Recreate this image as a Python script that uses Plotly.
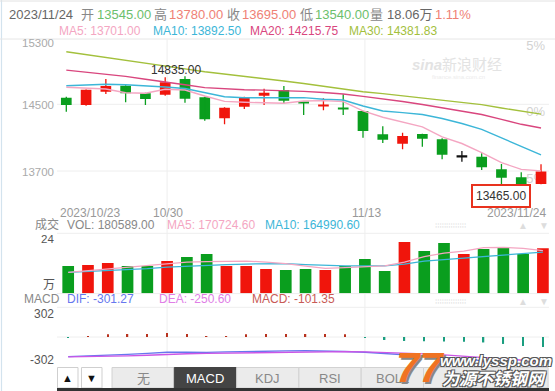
import plotly.graph_objects as go

W, H = 555, 391
FONT = "Liberation Sans, Arial, Noto Sans CJK SC, sans-serif"

# ---------------- data ----------------
dates = ["2023/10/23", "2023/10/24", "2023/10/25", "2023/10/26", "2023/10/27",
         "2023/10/30", "2023/10/31", "2023/11/01", "2023/11/02", "2023/11/03",
         "2023/11/06", "2023/11/07", "2023/11/08", "2023/11/09", "2023/11/10",
         "2023/11/13", "2023/11/14", "2023/11/15", "2023/11/16", "2023/11/17",
         "2023/11/20", "2023/11/21", "2023/11/22", "2023/11/23", "2023/11/24"]
opens = [14579, 14492, 14651, 14723, 14632, 14615, 14804, 14584, 14332, 14471,
         14603, 14672, 14526, 14480, 14454, 14420, 14140, 14027, 14144, 14080,
         13880, 13872, 13720, 13624, 13545]
closes = [14492, 14675, 14720, 14632, 14564, 14764, 14567, 14320, 14459, 14579,
          14639, 14543, 14522, 14486, 14450, 14180, 14075, 14120, 14087, 13895,
          13880, 13744, 13619, 13545, 13695]
highs = [14591, 14678, 14804, 14728, 14640, 14824, 14835, 14590, 14465, 14591,
         14687, 14720, 14526, 14572, 14620, 14422, 14236, 14160, 14146, 14092,
         13940, 13912, 13784, 13684, 13780]
lows = [14411, 14483, 14624, 14524, 14492, 14603, 14519, 14303, 14260, 14444,
        14492, 14512, 14372, 14428, 14372, 14099, 14036, 13960, 13991, 13840,
        13811, 13712, 13465, 13480, 13540]
ma5 = [14704, 14692, 14684, 14638, 14632, 14680, 14672, 14600, 14535, 14524,
       14520, 14512, 14540, 14544, 14532, 14420, 14345, 14290, 14230, 14110,
       14030, 13920, 13800, 13720, 13701.00]
ma10 = [14722, 14733, 14740, 14735, 14725, 14708, 14690, 14640, 14590, 14579,
        14580, 14583, 14580, 14560, 14552, 14480, 14420, 14400, 14378, 14330,
        14270, 14200, 14100, 14000, 13892.50]
ma20 = [14910, 14885, 14860, 14835, 14800, 14771, 14735, 14700, 14683, 14675,
        14670, 14664, 14655, 14642, 14624, 14595, 14566, 14534, 14497, 14458,
        14420, 14378, 14320, 14260, 14215.75]
ma30 = [15131, 15098, 15063, 15030, 14995, 14962, 14925, 14890, 14864, 14836,
        14808, 14780, 14750, 14717, 14684, 14651, 14628, 14602, 14576, 14550,
        14522, 14496, 14455, 14418, 14381.83]
volumes = [109000, 113000, 121000, 109000, 109000, 129000, 145000, 157000, 109000, 109000,
           97000, 93000, 97000, 93000, 109000, 137000, 89000, 205000, 169000, 201000,
           157000, 177000, 185000, 157000, 180589]
vol_ma5 = [84000, 91000, 99000, 105000, 113000, 121000, 125000, 127000, 129000, 129000,
           125000, 119000, 109000, 100000, 103000, 107000, 110000, 125000, 147000, 161000,
           169000, 183000, 184000, 180000, 170724.6]
vol_ma10 = [84000, 87000, 91000, 95000, 99000, 105000, 109000, 113000, 115000, 117000,
            119000, 119000, 115000, 111000, 110000, 110000, 110000, 117000, 129000, 135000,
            141000, 147000, 153000, 161000, 164990.6]
dif = [-198, -192, -184, -175, -165, -154, -152, -155, -150, -145,
       -141, -140, -138, -140, -146, -154, -165, -178, -190, -205,
       -220, -240, -260, -282, -301.27]
dea = [-200, -199, -195, -190, -183, -174, -168, -165, -162, -158,
       -154, -150, -148, -147, -147, -150, -155, -162, -170, -180,
       -192, -205, -219, -234, -250.60]
macd = [-6, 4, 28, 30, 30, 40, 30, 6, 6, 28,
        30, 30, 30, 30, 28, -4, -30, -40, -42, -45,
        -48, -55, -70, -90, -101.35]

date_tick_idx = [0, 5, 15, 24]
date_tick_text = ["2023/10/23", "10/30", "11/13", "2023/11/24"]
price_grid = [15300, 14500, 13700]
price_tick_text = ["15300", "14500", "13700"]
pct_tick_text = ["5%", "0%", "-5%"]
vol_tick_text = ["24", "万"]
macd_tick_text = ["302", "-302"]
max_label = "14835.00"
min_label = "13465.00"

# ---------------- style helpers ----------------
RED = "#f0150c"
GREEN = "#0a9e1e"
BLACK = "#111111"
C_MA5, C_MA10, C_MA20, C_MA30 = "#f4a6c2", "#3cb6d8", "#d9467e", "#a3c03c"
C_DIF, C_DEA = "#6677ee", "#cc55e6"


def fx(p):
    return p / W


def fy(p):
    return 1 - p / H


PL, PR = 57, 549
SP = 19.78
v0 = (PL - 68.2) / SP
V_RANGE = [v0, v0 + (PR - PL) / SP]
M_RANGE = [V_RANGE[0] + 0.096, V_RANGE[1] + 0.096]
UPP = 800 / 66.7  # price units per pixel
Y_TOP_PX, Y_BOT_PX = 37.6, 205
M_YRANGE = [15300 - (Y_BOT_PX - Y_TOP_PX) * UPP, 15300]

x = list(range(len(dates)))
cand_color = [RED if c > o else (GREEN if c < o else BLACK) for o, c in zip(opens, closes)]
vol_color = [RED if c >= o else GREEN for o, c in zip(opens, closes)]
MINH = 16
body_base = [min(o, c) if abs(c - o) >= MINH else (o + c) / 2 - MINH / 2 for o, c in zip(opens, closes)]
body_h = [max(abs(c - o), MINH) for o, c in zip(opens, closes)]

fig = go.Figure()

# candle bodies
fig.add_trace(go.Bar(x=x, y=body_h, base=body_base, width=0.54,
                     marker=dict(color=cand_color, line=dict(width=0)),
                     xaxis="x", yaxis="y", hoverinfo="skip", showlegend=False))
# wicks
for col in (RED, GREEN, BLACK):
    xs, ys = [], []
    for i in x:
        if cand_color[i] == col:
            xs += [i, i, None]
            ys += [lows[i], highs[i], None]
    if xs:
        fig.add_trace(go.Scatter(x=xs, y=ys, mode="lines", line=dict(color=col, width=1.3),
                                 xaxis="x", yaxis="y", hoverinfo="skip", showlegend=False))
# MA lines
for arr, col in ((ma30, C_MA30), (ma20, C_MA20), (ma10, C_MA10), (ma5, C_MA5)):
    fig.add_trace(go.Scatter(x=x, y=arr, mode="lines", line=dict(color=col, width=1.4),
                             xaxis="x", yaxis="y", hoverinfo="skip", showlegend=False))

# volume
fig.add_trace(go.Bar(x=x, y=volumes, width=0.59, marker=dict(color=vol_color, line=dict(width=0)),
                     xaxis="x2", yaxis="y2", hoverinfo="skip", showlegend=False))
for arr, col in ((vol_ma10, C_MA10), (vol_ma5, C_MA5)):
    fig.add_trace(go.Scatter(x=x, y=arr, mode="lines", line=dict(color=col, width=1.3),
                             xaxis="x2", yaxis="y2", hoverinfo="skip", showlegend=False))

# MACD
fig.add_trace(go.Bar(x=x, y=macd, width=0.07,
                     marker=dict(color=["#b8321e" if v > 0 else "#1a9e80" for v in macd], line=dict(width=0)),
                     xaxis="x3", yaxis="y3", hoverinfo="skip", showlegend=False))
for arr, col in ((dif, C_DIF), (dea, C_DEA)):
    fig.add_trace(go.Scatter(x=x, y=arr, mode="lines", line=dict(color=col, width=1.4),
                             xaxis="x3", yaxis="y3", hoverinfo="skip", showlegend=False))

# ---------------- shapes ----------------
shapes = []
GRID = "#eeeeee"


def hline_px(yp, x0=PL, x1=PR, color=GRID, width=1):
    shapes.append(dict(type="line", xref="paper", yref="paper", x0=fx(x0), x1=fx(x1),
                       y0=fy(yp), y1=fy(yp), line=dict(color=color, width=width), layer="below"))


# frame
shapes.append(dict(type="line", xref="paper", yref="paper", x0=fx(1.5), x1=fx(1.5), y0=0, y1=1,
                   line=dict(color="#d3e3ee", width=1.2), layer="below"))
hline_px(1, 0, W, "#e2e2e2")
hline_px(39, 0, W, "#e6e6e6")
# main grid
for v in price_grid[1:]:
    shapes.append(dict(type="line", xref="paper", yref="y", x0=fx(PL), x1=fx(PR), y0=v, y1=v,
                       line=dict(color=GRID, width=1), layer="below"))
# vertical grid
for i in date_tick_idx[1:3]:
    shapes.append(dict(type="line", xref="x2", yref="paper", x0=i, x1=i, y0=fy(367), y1=fy(39),
                       line=dict(color=GRID, width=1), layer="below"))
# volume & macd grid
hline_px(233.3)
hline_px(293.6)
hline_px(307.3)
hline_px(337)
# right percent labels (below traces)
for t, yp in zip(pct_tick_text, (44, 110, 177)):
    shapes.append(dict(type="rect", xref="paper", yref="paper", x0=fx(510), x1=fx(549),
                       y0=fy(yp + 8), y1=fy(yp - 8), line=dict(width=0), fillcolor="rgba(0,0,0,0)",
                       layer="below",
                       label=dict(text=t, textposition="middle right", padding=1,
                                  font=dict(family=FONT, size=13, color="#d2d2d2"))))


# bottom tabs
def rect_px(x0, y0, x1, y1, fill, line="#cfcfcf", lw=1):
    shapes.append(dict(type="rect", xref="paper", yref="paper", x0=fx(x0), x1=fx(x1),
                       y0=fy(y1), y1=fy(y0), fillcolor=fill, line=dict(color=line, width=lw), layer="above"))


rect_px(57.5, 367.5, 78, 388, "#ffffff")
rect_px(81.5, 367.5, 102, 388, "#ffffff")
tabs = ["无", "MACD", "KDJ", "RSI", "BOLL", "", ""]
tab_x0 = 112
tab_w = 62.3
for k, t in enumerate(tabs):
    a = tab_x0 + k * tab_w
    rect_px(a, 367.5, a + tab_w, 388, "#444444" if t == "MACD" else "#ebebeb",
            "#444444" if t == "MACD" else "#d2d2d2")
rect_px(57, 388, 549, 391, "#333333", "#333333", 0)

# ---------------- annotations ----------------
ann = []


def text_px(t, xp, yp, color="#888", size=12, xanchor="left", **kw):
    d = dict(text=t, xref="paper", yref="paper", x=fx(xp), y=fy(yp), xanchor=xanchor,
             yanchor="middle", showarrow=False, font=dict(family=FONT, size=size, color=color))
    d.update(kw)
    ann.append(d)


# header row 1
C_UPT, C_DNT, C_G = "#ef8175", "#6cc06c", "#888888"
row1 = [("2023/11/24", 7, "#666"), ("开", 79, C_G), ("13545.00", 95, C_DNT),
        ("高", 152, C_G), ("13780.00", 167, C_UPT), ("收", 225, C_G),
        ("13695.00", 240, C_UPT), ("低", 298, C_G), ("13540.00", 313, C_DNT),
        ("量", 368, C_G), ("18.06万", 385, "#666"), ("1.11%", 433, C_UPT)]
for t, xp, c in row1:
    text_px(t, xp, 15, c, 13)
# MA legend
row2 = [("MA5: %.2f" % ma5[-1], 57, C_MA5), ("MA10: %.2f" % ma10[-1], 151, C_MA10),
        ("MA20: %.2f" % ma20[-1], 248, C_MA20), ("MA30: %.2f" % ma30[-1], 347, C_MA30)]
for t, xp, c in row2:
    text_px(t, xp, 31, c, 12)
# price axis labels
for t, yp in zip(price_tick_text, (43.5, 105, 171.5)):
    text_px(t, 56, yp, "#aaaaaa", 11.5, "right")
# date labels
text_px(date_tick_text[0], 58, 213, "#999", 12, "left")
text_px(date_tick_text[1], 168, 213, "#999", 12, "center")
text_px(date_tick_text[2], 366, 213, "#999", 12, "center")
text_px(date_tick_text[3], 548, 213, "#999", 12, "right")
# volume header
text_px("成交", 33, 224.5, "#888", 12)
text_px("VOL: %.2f" % volumes[-1], 65, 224.5, "#888", 12)
text_px("MA5: %.2f" % vol_ma5[-1], 165, 224.5, C_MA5, 12)
text_px("MA10: %.2f" % vol_ma10[-1], 263, 224.5, C_MA10, 12)
text_px(vol_tick_text[0], 56, 238.5, "#555", 11.5, "right")
text_px(vol_tick_text[1], 57, 285, "#555", 12, "right")
# macd header
text_px("MACD", 22, 298.5, "#888", 12)
text_px("DIF: %.2f" % dif[-1], 65, 298.5, C_DIF, 12)
text_px("DEA: %.2f" % dea[-1], 157, 298.5, "#e07ee6", 12)
text_px("MACD: %.2f" % macd[-1], 250, 298.5, "#c85a56", 12)
text_px(macd_tick_text[0], 56, 313.5, "#555", 12, "right")
text_px(macd_tick_text[1], 56, 360, "#555", 12, "right")
# small controls
for yp in (225.5, 301):
    text_px("⁞⁞⁞⁞⁞⁞⁞⁞⁞⁞⁞⁞⁞⁞", 433, yp, "#e2e2e2", 8)
    text_px("▲", 523, yp, "#dddddd", 10, "center")
    text_px("▼", 544, yp, "#dddddd", 10, "center")
# tabs text
text_px("▲", 67.8, 378, "#111", 11, "center")
text_px("▼", 91.8, 378, "#111", 11, "center")
for k, t in enumerate(tabs):
    if t:
        text_px(t, tab_x0 + k * tab_w + tab_w / 2, 378, "#ffffff" if t == "MACD" else "#888888", 13, "center")

# sina watermark
text_px("<i><b>sina</b></i>新浪财经", 457, 65, "#e3e3e3", 15, "center")
text_px("finance.sina.com.cn", 458, 77, "#ececec", 6, "center")

# max / min labels
ann.append(dict(text=max_label, x=6, y=highs[6], xref="x", yref="y", xanchor="center", yanchor="bottom",
                xshift=-9, yshift=-3, showarrow=False, font=dict(family=FONT, size=12, color="#333")))
ann.append(dict(text=min_label, x=22, y=lows[22], xref="x", yref="y", xanchor="center", yanchor="top",
                yshift=7, showarrow=False, bgcolor="#ffffff", bordercolor="#e8321e", borderwidth=2,
                borderpad=3, font=dict(family=FONT, size=12, color="#333")))

# lyssp logo
OUT = "1px 1px 0 #555, -1px -1px 0 #555, 1px -1px 0 #555, -1px 1px 0 #555"
ann.append(dict(text="<b><i>77</i></b>", xref="paper", yref="paper", x=fx(420), y=fy(367),
                xanchor="center", yanchor="middle", showarrow=False,
                font=dict(family=FONT, size=42, color="#f07322", shadow="2px 2px 0 #888")))
ann.append(dict(text="<b><i>www.lyssp.com</i></b>", xref="paper", yref="paper", x=fx(496), y=fy(360),
                xanchor="center", yanchor="middle", showarrow=False,
                font=dict(family=FONT, size=15, color="#ffffff", shadow=OUT)))
ann.append(dict(text="<b><i>为源不锈钢网</i></b>", xref="paper", yref="paper", x=fx(494), y=fy(377),
                xanchor="center", yanchor="middle", showarrow=False,
                font=dict(family="Noto Sans CJK SC", size=17, color="#ffffff", shadow=OUT)))

ax_common = dict(visible=False, fixedrange=True)
fig.update_layout(
    width=W, height=H, margin=dict(l=0, r=0, t=0, b=0),
    paper_bgcolor="#ffffff", plot_bgcolor="rgba(0,0,0,0)",
    barmode="overlay", showlegend=False, hovermode=False,
    xaxis=dict(domain=[fx(PL), fx(PR)], range=M_RANGE, anchor="y", **ax_common),
    yaxis=dict(domain=[fy(Y_BOT_PX), fy(Y_TOP_PX)], range=M_YRANGE, anchor="x", **ax_common),
    xaxis2=dict(domain=[fx(PL), fx(PR)], range=V_RANGE, anchor="y2", **ax_common),
    yaxis2=dict(domain=[fy(293.3), fy(233.3)], range=[0, 240000], anchor="x2", **ax_common),
    xaxis3=dict(domain=[fx(PL), fx(PR)], range=V_RANGE, anchor="y3", **ax_common),
    yaxis3=dict(domain=[fy(367), fy(307)], range=[-302, 302], anchor="x3", **ax_common),
    shapes=shapes, annotations=ann,
)

fig.write_html("out.html", config={"displayModeBar": False},
               post_script="document.body.style.margin='0';document.body.style.padding='0';document.body.style.overflow='hidden';")
